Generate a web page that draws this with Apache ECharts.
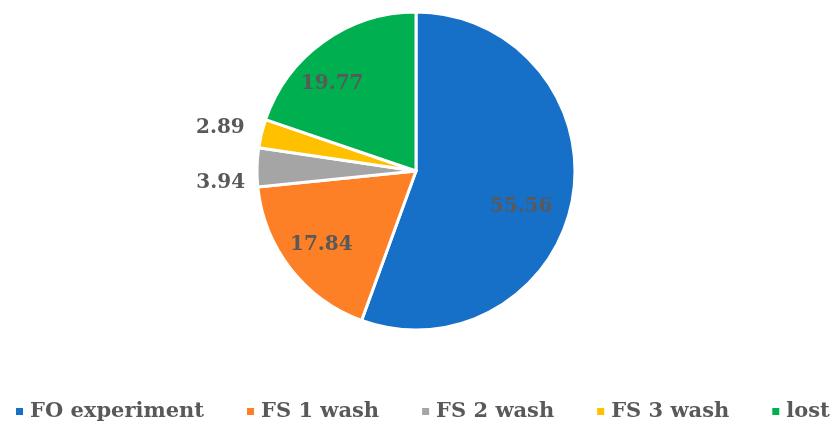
<!DOCTYPE html>
<html><head><meta charset="utf-8">
<script src="https://cdn.jsdelivr.net/npm/echarts@6/dist/echarts.min.js"></script>
<style>html,body{margin:0;padding:0;background:#fff}#c{width:833px;height:427px}</style>
</head><body><div id="c"></div>
<script>
const categories = ['FO experiment','FS 1 wash','FS 2 wash','FS 3 wash','lost'];
const values = [55.56, 17.84, 3.94, 2.89, 19.77];
const colors = ['#1770C8','#FD7F26','#A5A5A5','#FFC000','#00B050'];
const outsideLabels = [false,false,true,true,false];
const labelOffsets = [[-13,15],[0,0],[3,16],[-2,-3],[-14,10]];

const font = 'DejaVu Serif';
const textColor = '#595959';
const chart = echarts.init(document.getElementById('c'));
const mainData = categories.map((n,i)=>({
  name:n, value:values[i],
  itemStyle:{color:colors[i]},
  label:{show:outsideLabels[i], offset:labelOffsets[i]}
}));
const overlayData = categories.map((n,i)=>({
  name:n, value:values[i],
  label:{show:!outsideLabels[i], offset:labelOffsets[i]}
}));
chart.setOption({
  animation:false,
  legend:{
    bottom:5, left:14, right:0, padding:0,
    icon:'rect', itemWidth:9, itemHeight:9, itemGap:41,
    textStyle:{fontFamily:font, fontWeight:'bold', fontSize:21, color:textColor, padding:[0,0,0,1]},
    data:categories
  },
  series:[{
    type:'pie', center:[416,171], radius:[0,159], startAngle:90, clockwise:true,
    data:mainData,
    itemStyle:{borderColor:'#fff', borderWidth:3},
    label:{position:'outside', fontFamily:font, fontWeight:'bold', fontSize:20, color:textColor, formatter:p=>p.value.toFixed(2)},
    labelLine:{show:false, length:10, length2:0},
    avoidLabelOverlap:false
  },{
    type:'pie', center:[416,171], radius:[100,134], startAngle:90, clockwise:true, silent:true,
    data:overlayData,
    itemStyle:{color:'rgba(0,0,0,0)'},
    label:{position:'inside', fontFamily:font, fontWeight:'bold', fontSize:20, color:textColor, formatter:p=>p.value.toFixed(2)},
    labelLine:{show:false}
  }]
});
</script></body></html>
